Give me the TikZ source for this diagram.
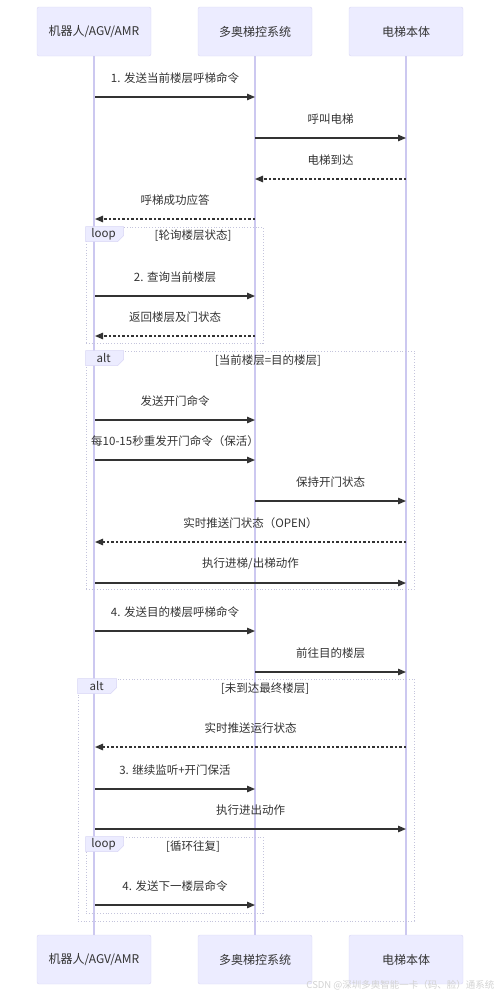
\documentclass[tikz,border=0pt]{standalone}
\usepackage{fontspec}
\setmainfont{Noto Sans CJK SC}
\usetikzlibrary{positioning,arrows.meta,fit}
\definecolor{actorFill}{HTML}{ECECFF}
\definecolor{actorLine}{HTML}{D9D6F5}
\definecolor{lifeLine}{HTML}{CCC8F0}
\definecolor{frameLine}{HTML}{C4C4DC}
\definecolor{msgLine}{HTML}{333333}

\begin{document}
\begin{tikzpicture}[
	x=1pt, y=-1pt,
	node distance = 0pt,
	actor/.style={draw=actorLine, fill=actorFill, rounded corners=2pt,
		minimum width=114pt, minimum height=49pt, outer sep=0pt,
		font=\fontsize{12}{14}\selectfont, text=msgLine},
	life/.style={draw=lifeLine, line width=1.2pt},
	frame/.style={draw=frameLine, dotted, line width=0.8pt, inner sep=0pt},
	tabbox/.style={fill=actorFill, draw=actorLine, line width=0.6pt},
	msg/.style={draw=msgLine, line width=1.3pt, -{Triangle[length=8pt,width=6.5pt]}},
	reply/.style={msg, dash pattern=on 2.5pt off 2pt},
	lbl/.style={midway, yshift=19pt, font=\fontsize{11.5}{13}\selectfont, text=msgLine},
	ttl/.style={font=\fontsize{11.5}{13}\selectfont, text=msgLine},
	]
	\useasboundingbox (0,0) rectangle (500,993);
	
	% participants
	\node [actor] (a1) at (94,31.5) {机器人/AGV/AMR};
	\node [actor] (a2) at (255,31.5) {多奥梯控系统};
	\node [actor] (a3) at (406,31.5) {电梯本体};
	\node [actor, below=879pt of a1] (b1) {机器人/AGV/AMR};
	\node [actor, below=879pt of a2] (b2) {多奥梯控系统};
	\node [actor, below=879pt of a3] (b3) {电梯本体};
	
	\draw [life] (a1) -- (b1);
	\draw [life] (a2) -- (b2);
	\draw [life] (a3) -- (b3);
	
	% frames
	\coordinate (f1a) at (86,227); \coordinate (f1b) at (263,343);
	\coordinate (f2a) at (86,351); \coordinate (f2b) at (414,589);
	\coordinate (f3a) at (78,679); \coordinate (f3b) at (414,921);
	\coordinate (f4a) at (86,837); \coordinate (f4b) at (263,913);
	\node [frame, fit=(f1a)(f1b)] (loop1) {};
	\node [frame, fit=(f2a)(f2b)] (alt1) {};
	\node [frame, fit=(f3a)(f3b)] (alt2) {};
	\node [frame, fit=(f4a)(f4b)] (loop2) {};
	
	\draw [tabbox] (loop1.north west) -- ++(38,0) -- ++(0,9) -- ++(-6,6) -- ++(-32,0) -- cycle;
	\draw [tabbox] (alt1.north west) -- ++(38,0) -- ++(0,9) -- ++(-6,6) -- ++(-32,0) -- cycle;
	\draw [tabbox] (alt2.north west) -- ++(39,0) -- ++(0,9) -- ++(-6,6) -- ++(-33,0) -- cycle;
	\draw [tabbox] (loop2.north west) -- ++(38,0) -- ++(0,9) -- ++(-6,6) -- ++(-32,0) -- cycle;
	
	\node [ttl] (loop1tag) at ([shift={(18,7.5)}]loop1.north west) {loop};
	\node [ttl] (alt1tag) at ([shift={(18,7.5)}]alt1.north west) {alt};
	\node [ttl] (alt2tag) at ([shift={(19,7.5)}]alt2.north west) {alt};
	\node [ttl] (loop2tag) at ([shift={(18,7.5)}]loop2.north west) {loop};
	
	\node [ttl] (loop1cond) at (193,236) {[轮询楼层状态]};
	\node [ttl] (alt1cond) at (268,361) {[当前楼层=目的楼层]};
	\node [ttl] (alt2cond) at (265,689) {[未到达最终楼层]};
	\node [ttl] (loop2cond) at (193,847) {[循环往复]};
	
	% message end points
	\coordinate (p1) at (95,97);   \coordinate (q1) at (255,97);
	\coordinate (p2) at (255,138); \coordinate (q2) at (406,138);
	\coordinate (p3) at (406,179); \coordinate (q3) at (255,179);
	\coordinate (p4) at (255,219); \coordinate (q4) at (95,219);
	\coordinate (p5) at (95,296);  \coordinate (q5) at (255,296);
	\coordinate (p6) at (255,336); \coordinate (q6) at (95,336);
	\coordinate (p7) at (95,420);  \coordinate (q7) at (255,420);
	\coordinate (p8) at (95,460);  \coordinate (q8) at (255,460);
	\coordinate (p9) at (255,501); \coordinate (q9) at (406,501);
	\coordinate (p10) at (406,542); \coordinate (q10) at (95,542);
	\coordinate (p11) at (95,583);  \coordinate (q11) at (406,583);
	\coordinate (p12) at (95,631);  \coordinate (q12) at (255,631);
	\coordinate (p13) at (255,672); \coordinate (q13) at (406,672);
	\coordinate (p14) at (406,747); \coordinate (q14) at (95,747);
	\coordinate (p15) at (95,789);  \coordinate (q15) at (255,789);
	\coordinate (p16) at (95,829);  \coordinate (q16) at (406,829);
	\coordinate (p17) at (95,905);  \coordinate (q17) at (255,905);
	
	% messages
	\draw [msg] (p1) -- node [lbl] {1. 发送当前楼层呼梯命令} (q1);
	\draw [msg] (p2) -- node [lbl] {呼叫电梯} (q2);
	\draw [reply] (p3) -- node [lbl] {电梯到达} (q3);
	\draw [reply] (p4) -- node [lbl] {呼梯成功应答} (q4);
	\draw [msg] (p5) -- node [lbl] {2. 查询当前楼层} (q5);
	\draw [reply] (p6) -- node [lbl] {返回楼层及门状态} (q6);
	\draw [msg] (p7) -- node [lbl] {发送开门命令} (q7);
	\draw [msg] (p8) -- node [lbl] {每10-15秒重发开门命令（保活）} (q8);
	\draw [msg] (p9) -- node [lbl] {保持开门状态} (q9);
	\draw [reply] (p10) -- node [lbl] {实时推送门状态（OPEN）} (q10);
	\draw [msg] (p11) -- node [lbl] {执行进梯/出梯动作} (q11);
	\draw [msg] (p12) -- node [lbl] {4. 发送目的楼层呼梯命令} (q12);
	\draw [msg] (p13) -- node [lbl] {前往目的楼层} (q13);
	\draw [reply] (p14) -- node [lbl] {实时推送运行状态} (q14);
	\draw [msg] (p15) -- node [lbl] {3. 继续监听+开门保活} (q15);
	\draw [msg] (p16) -- node [lbl] {执行进出动作} (q16);
	\draw [msg] (p17) -- node [lbl] {4. 发送下一楼层命令} (q17);
	
	\node [anchor=east, text=gray!35, font=\fontsize{9.5}{11}\selectfont] (mark) at (498,985) {CSDN @深圳多奥智能一卡（码、脸）通系统};
\end{tikzpicture}
\end{document}
